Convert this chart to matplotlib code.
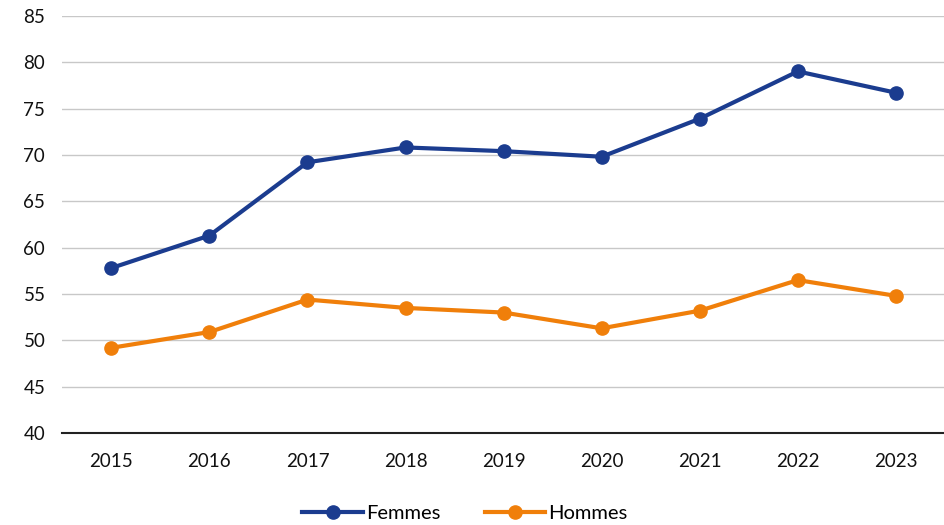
import matplotlib
matplotlib.use("Agg")
import matplotlib.pyplot as plt

years = ["2015", "2016", "2017", "2018", "2019", "2020", "2021", "2022", "2023"]
femmes = [57.8, 61.3, 69.2, 70.8, 70.4, 69.8, 73.9, 79.0, 76.7]
hommes = [49.2, 50.9, 54.4, 53.5, 53.0, 51.3, 53.2, 56.5, 54.8]

BLUE = "#1b3c8f"
ORANGE = "#f07f0a"

plt.rcParams["font.family"] = ["Lato", "DejaVu Sans"]

fig = plt.figure(figsize=(9.44, 5.25), dpi=100)
ax = fig.add_axes([0.066, 0.175, 0.935, 0.795])

x = range(len(years))
ax.plot(x, femmes, color=BLUE, lw=3, marker="o", ms=9.5, label="Femmes", zorder=3)
ax.plot(x, hommes, color=ORANGE, lw=3, marker="o", ms=9.5, label="Hommes", zorder=3)

ax.set_xlim(-0.5, len(years) - 0.5)
ax.set_ylim(40, 85)
ax.set_yticks(range(40, 90, 5))
ax.set_xticks(list(x))
ax.set_xticklabels(years)
ax.grid(axis="y", color="#c8c8c8", lw=1)
ax.set_axisbelow(True)
for s in ["top", "right", "left"]:
    ax.spines[s].set_visible(False)
ax.spines["bottom"].set_color("#222222")
ax.spines["bottom"].set_linewidth(1.5)
ax.tick_params(axis="both", length=0, labelsize=13.5, colors="#111111")
ax.tick_params(axis="x", pad=14)
ax.tick_params(axis="y", pad=28)
for lbl in ax.get_yticklabels():
    lbl.set_horizontalalignment("left")

ax.legend(loc="upper center", bbox_to_anchor=(0.456, -0.128), ncol=2, frameon=False,
          fontsize=14.5, handlelength=3.0, columnspacing=2.2, handletextpad=0.15)

fig.savefig("out.png", dpi=100)
